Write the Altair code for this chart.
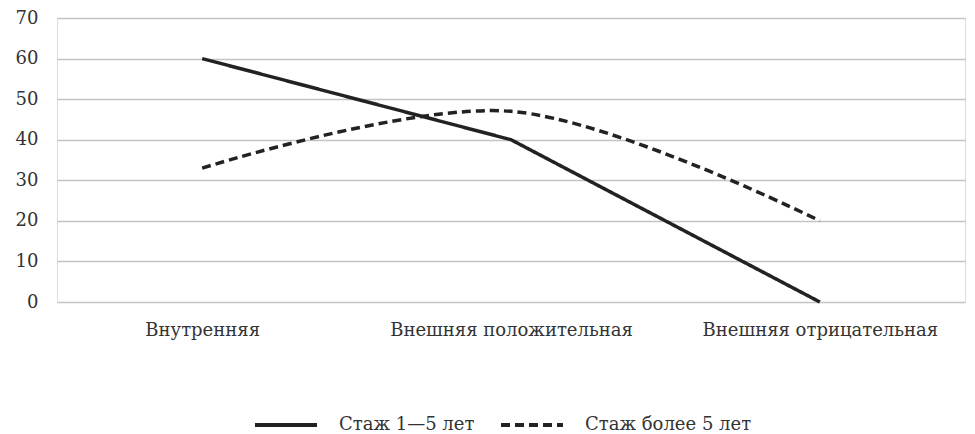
import altair as alt
import pandas as pd

categories = ["Внутренняя", "Внешняя положительная", "Внешняя отрицательная"]
series_names = ["Стаж 1—5 лет", "Стаж более 5 лет"]
values_short = [60, 40, 0]
values_long = [33, 47, 20]

rows = []
for c, v in zip(categories, values_short):
    rows.append({"cat": c, "val": v, "series": series_names[0]})
df1 = pd.DataFrame(rows)
rows = []
for c, v in zip(categories, values_long):
    rows.append({"cat": c, "val": v, "series": series_names[1]})
df2 = pd.DataFrame(rows)

FONT = "DejaVu Serif"
FS = 18
x = alt.X("cat:N", sort=categories, title=None,
          scale=alt.Scale(type="point", padding=0.47),
          axis=alt.Axis(labelAngle=0, domain=False, ticks=False, labelPadding=19,
                        labelFontSize=FS, labelColor="#333333", labelFont=FONT,
                        labelLimit=0, grid=False))
y = alt.Y("val:Q", title=None,
          scale=alt.Scale(domain=[0, 70], nice=False),
          axis=alt.Axis(values=list(range(0, 71, 10)), domain=False, ticks=False,
                        labelPadding=19, labelFontSize=FS, labelColor="#333333", labelFont=FONT,
                        grid=True, gridColor="#c4c4c4", gridWidth=1.5))

color = alt.Color("series:N", sort=series_names,
                  scale=alt.Scale(domain=series_names, range=["#222222", "#222222"]),
                  legend=alt.Legend(title=None, orient="none", direction="horizontal",
                                    legendX=196, legendY=374, symbolType="stroke",
                                    symbolSize=3844, symbolStrokeWidth=4, padding=0,
                                    labelFontSize=FS, labelFont=FONT, labelColor="#333333",
                                    labelLimit=0, columnPadding=18, labelOffset=20))
dash = alt.StrokeDash("series:N", sort=series_names,
                      scale=alt.Scale(domain=series_names, range=[[1, 0], [9, 5]]),
                      legend=None)

solid = alt.Chart(df1).mark_line(strokeWidth=3.5, color="#222222").encode(
    x=x, y=y, color=color, strokeDash=dash)
dashed = alt.Chart(df2).mark_line(strokeWidth=3.5, interpolate="catmull-rom", color="#222222").encode(
    x=x, y=y, color=color, strokeDash=dash)

chart = alt.layer(solid, dashed).properties(
    width=908, height=284,
    autosize=alt.AutoSizeParams(type="none"),
    padding={"left": 49, "top": 10, "right": 2, "bottom": 132},
).configure_view(stroke=None).configure(background="white")

chart.save("out.html", embed_options={"renderer": "svg", "actions": False})
